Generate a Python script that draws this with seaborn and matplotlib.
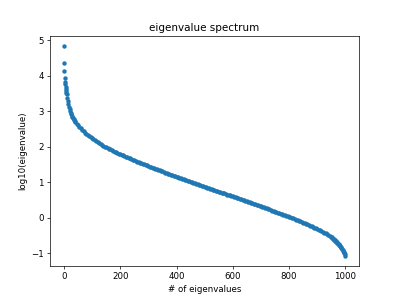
import numpy as np
import pandas as pd
import matplotlib
matplotlib.use("Agg")
import matplotlib.pyplot as plt
import seaborn as sns

# eigenvalue positions: dense near the steep ends, every 5 in the middle
idx_head = list(range(0, 11)) + list(range(12, 40, 2))
idx_mid = list(range(40, 951, 5))
idx_tail = list(range(952, 999, 2)) + [999]

# log10(eigenvalue)
log_head = [4.83, 4.35, 4.14, 3.93, 3.82, 3.75, 3.69, 3.63, 3.57, 3.52, 3.47,
            3.37, 3.28, 3.19, 3.12, 3.06, 3.00, 2.95, 2.91, 2.87, 2.84, 2.81,
            2.78, 2.75, 2.73]

log_mid = [2.700, 2.650, 2.600, 2.553, 2.510, 2.468, 2.428, 2.389, 2.352, 2.318,
           2.287, 2.258, 2.230, 2.200, 2.172, 2.145, 2.120, 2.092, 2.064, 2.040,
           2.020, 2.000, 1.980, 1.960, 1.940, 1.920, 1.900, 1.880, 1.860, 1.840,
           1.822, 1.805, 1.788, 1.769, 1.750, 1.731, 1.712, 1.696, 1.680, 1.665,
           1.649, 1.630, 1.612, 1.596, 1.580, 1.565, 1.550, 1.535, 1.520, 1.505,
           1.488, 1.470, 1.452, 1.436, 1.420, 1.405, 1.390, 1.375, 1.360, 1.345,
           1.330, 1.315, 1.300, 1.285, 1.270, 1.255, 1.240, 1.225, 1.210, 1.195,
           1.180, 1.165, 1.150, 1.135, 1.120, 1.105, 1.092, 1.080, 1.067, 1.054,
           1.040, 1.025, 1.010, 0.995, 0.980, 0.966, 0.953, 0.940, 0.927, 0.914,
           0.900, 0.885, 0.870, 0.856, 0.842, 0.830, 0.818, 0.804, 0.790, 0.775,
           0.760, 0.746, 0.732, 0.720, 0.707, 0.693, 0.680, 0.665, 0.650, 0.638,
           0.625, 0.612, 0.600, 0.585, 0.570, 0.556, 0.542, 0.530, 0.517, 0.503,
           0.490, 0.475, 0.460, 0.445, 0.430, 0.416, 0.402, 0.390, 0.378, 0.364,
           0.350, 0.335, 0.320, 0.305, 0.290, 0.275, 0.260, 0.245, 0.230, 0.215,
           0.200, 0.185, 0.170, 0.155, 0.140, 0.125, 0.110, 0.095, 0.080, 0.065,
           0.050, 0.035, 0.020, 0.005, -0.010, -0.025, -0.040, -0.056, -0.072, -0.090,
           -0.108, -0.124, -0.140, -0.156, -0.172, -0.190, -0.208, -0.225, -0.242, -0.260,
           -0.280, -0.300, -0.320, -0.340, -0.360, -0.380, -0.400, -0.420, -0.442, -0.465,
           -0.490, -0.518, -0.545]

log_tail = [-0.56, -0.57, -0.59, -0.61, -0.62, -0.63, -0.65, -0.66, -0.68, -0.69,
            -0.71, -0.73, -0.75, -0.77, -0.79, -0.81, -0.83, -0.85, -0.88, -0.90,
            -0.93, -0.96, -0.99, -1.03, -1.07]

spectrum = pd.DataFrame({
    "index": idx_head + idx_mid + idx_tail,
    "log_eig": log_head + log_mid + log_tail,
})

fig, ax = plt.subplots(figsize=(6.4, 4.8), dpi=62.35)
sns.scatterplot(data=spectrum, x="index", y="log_eig", ax=ax,
                s=26, linewidth=0, color="#1f77b4")
ax.set_title("eigenvalue spectrum")
ax.set_xlabel("# of eigenvalues")
ax.set_ylabel("log10(eigenvalue)")
fig.savefig("out.png", dpi=62.35)
